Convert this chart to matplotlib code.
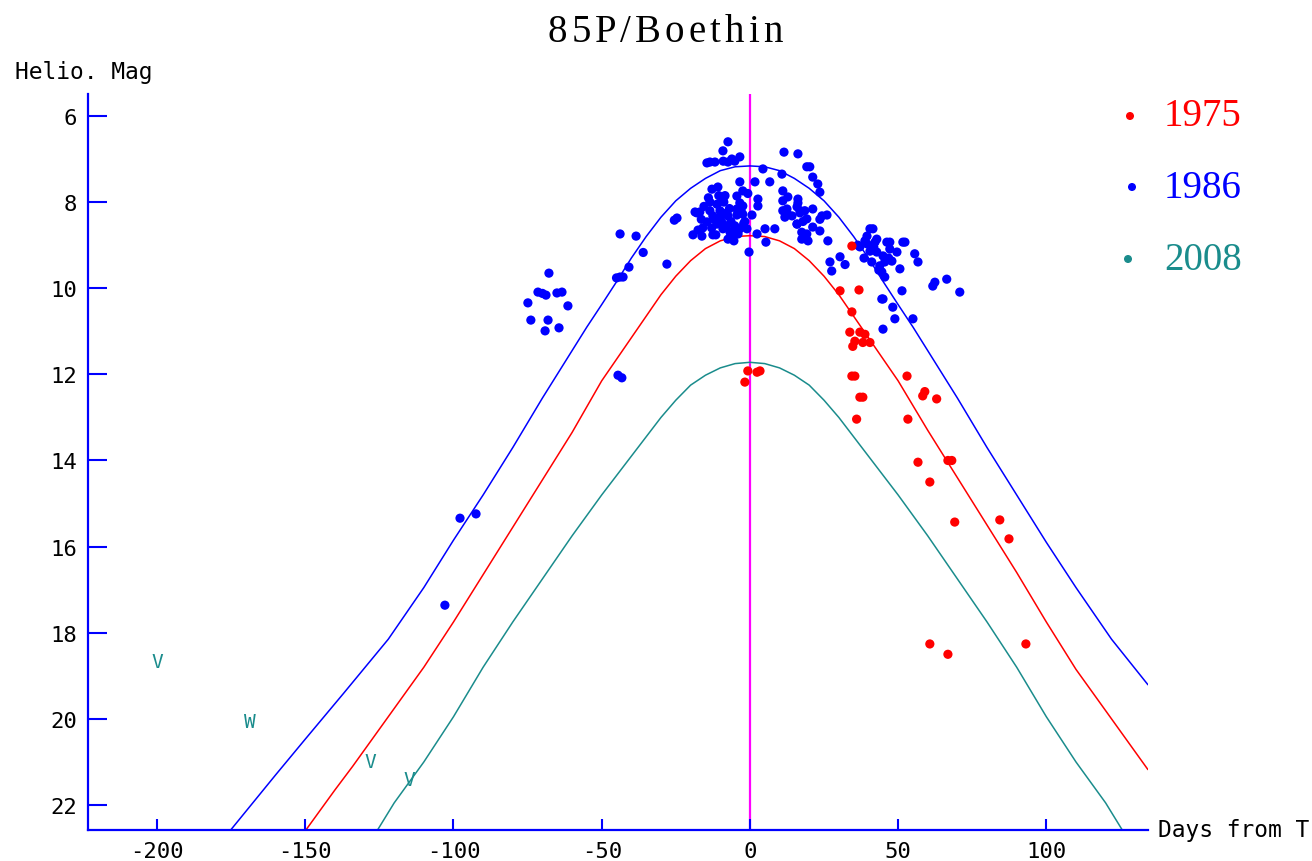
import matplotlib
matplotlib.use("Agg")
import matplotlib.pyplot as plt
from matplotlib.patches import Circle

plt.rcParams['axes.unicode_minus'] = False

TITLE = "85P/Boethin"
X_LABEL = "Days from T"
Y_LABEL = "Helio. Mag"
X_TICKS = [-200, -150, -100, -50, 0, 50, 100]
Y_TICKS = [6, 8, 10, 12, 14, 16, 18, 20, 22]

# 1986 observations (days from T, heliocentric magnitude)
blue_days = [
    -102.9, -97.8, -92.4, -44.5, -43.2,
    -67.8, -71.5, -68.8, -65.1, -63.4, -74.9, -61.4, -73.9, -68.1, -69.1, -64.4, -70.0,
    -43.8, -38.4, -40.8, -43.8, -42.8, -45.0, -36.0, -28.0, -24.6, -25.5, -17.9,
    -7.4, -9.1, -13.5, -11.8, -14.5, -6.1, -3.4, -5.1, -7.4, -9.0,
    4.4, 11.5, 16.2, 19.2, 6.7, 1.7, -3.4, 11.1, 16.2, -12.8, -10.8, -2.4, -4.4, 2.7,
    -13.5, -11.1, -9.1, -3.4, -2.4, 12.5, 15.9, 2.7, -13.5, -10.1, -7.8, -4.4,
    -18.5, -16.9, -12.5, -10.1, -7.4, -4.4, -2.4, 11.8, 14.2, 16.9,
    -14.5, -11.1, -7.8, -5.1, 15.9, 19.2, -19.2, -16.2, -12.5, -11.5, -9.1, -6.7,
    -3.4, -1.0, -7.4, -4.0, -6.1, 2.4, 5.4, 5.1, 8.4, -0.3, 19.2, 17.5,
    20.2, 21.2, 22.9, 23.6, 10.8, 11.1, 12.8, 16.2, 16.9, 11.1, 12.5, 18.5, 21.2, 24.3,
    15.9, 17.5, 19.6, 21.2, 23.6, 26.0, 26.3, 27.0, 27.6, 30.4, 41.5, 39.5, 44.9, 48.2,
    40.5, 38.8, 42.8, 47.2, 52.3, 37.1, 39.5, 42.2, 46.2, 40.5, 42.8, 44.9, 47.2, 49.6,
    41.1, 43.8, 45.5, 47.9, 51.6, 55.6, 56.7, 50.6, 44.5, 45.5, 51.3, 44.5, 48.9, 55.0,
    44.9, 61.7, 66.4, 70.8, 62.4, 17.9, 23.6, 32.1, 36.4, 38.5, 41.8, 43.5, 46.8,
    -15.5, -8.4, -1.7, -6.4, -15.9, -0.7, 0.7, -8.8, -12.1, -5.4,
    -14.0, -10.5, -6.9, -3.0, -16.4, -12.9, -9.6, -5.8, -2.1, -17.5,
]
blue_mags = [
    17.36, 15.34, 15.24, 12.02, 12.08,
    9.65, 10.09, 10.16, 10.11, 10.09, 10.34, 10.41, 10.74, 10.74, 10.99, 10.92, 10.12,
    8.74, 8.79, 9.51, 9.74, 9.74, 9.76, 9.17, 9.44, 8.37, 8.42, 8.25,
    6.60, 6.81, 7.07, 7.07, 7.09, 7.00, 6.95, 7.05, 7.07, 7.05,
    7.23, 6.84, 6.88, 7.18, 7.53, 7.53, 7.53, 7.74, 7.93, 7.70, 7.65, 7.74, 7.86, 7.93,
    8.00, 8.05, 7.95, 8.02, 8.09, 8.16, 8.11, 8.09, 8.20, 8.20, 8.25, 8.16,
    8.23, 8.23, 8.32, 8.35, 8.32, 8.30, 8.28, 8.35, 8.32, 8.20,
    8.46, 8.51, 8.55, 8.55, 8.51, 8.39, 8.76, 8.79, 8.76, 8.76, 8.62, 8.70,
    8.62, 8.62, 8.86, 8.74, 8.79, 8.74, 8.93, 8.62, 8.62, 9.16, 8.74, 8.86,
    7.18, 7.42, 7.58, 7.77, 7.35, 7.97, 7.88, 8.02, 8.25, 8.20, 8.25, 8.20, 8.16, 8.32,
    8.51, 8.70, 8.90, 8.58, 8.67, 8.30, 8.90, 9.39, 9.60, 9.27, 8.62, 8.79, 10.25, 10.44,
    8.62, 8.90, 8.86, 8.93, 8.93, 9.04, 8.97, 8.93, 8.93, 9.14, 9.16, 9.25, 9.09, 9.16,
    9.39, 9.48, 9.39, 9.37, 8.93, 9.20, 9.39, 9.55, 9.62, 9.74, 10.06, 10.25, 10.71, 10.71,
    10.95, 9.95, 9.79, 10.09, 9.86, 8.45, 8.40, 9.45, 9.00, 9.30, 9.05, 9.58, 9.30,
    8.10, 7.85, 8.45, 8.45, 8.60, 7.80, 8.30, 8.00, 8.40, 8.90,
    7.90, 7.85, 8.15, 8.20, 8.40, 8.60, 8.45, 8.70, 8.50, 8.65,
]

# 1975 observations
red_days = [
    -1.7, -0.7, 2.4, 3.4,
    34.4, 30.4, 36.8, 34.4,
    33.7, 37.1, 38.8, 35.4, 38.1, 40.5, 34.7,
    34.4, 35.4, 53.0, 59.0, 58.3, 63.0, 37.1, 38.1, 36.0, 53.3,
    56.7, 66.8, 68.1, 60.7, 69.1, 84.3, 87.4, 60.7, 93.1, 66.8,
]
red_mags = [
    12.18, 11.92, 11.95, 11.92,
    9.02, 10.06, 10.04, 10.55,
    11.02, 11.02, 11.07, 11.23, 11.26, 11.26, 11.35,
    12.04, 12.04, 12.04, 12.40, 12.50, 12.57, 12.53, 12.53, 13.04, 13.04,
    14.04, 14.00, 14.00, 14.50, 15.43, 15.38, 15.82, 18.26, 18.26, 18.50,
]

# 2008 limit markers (drawn as letters)
teal_mark_days = [-200.0, -168.6, -128.0, -115.0]
teal_mark_mags = [18.66, 20.05, 20.98, 21.40]
teal_mark_text = ["V", "W", "V", "V"]

# Light-curve models
blue_curve_days = [-175.4, -160.0, -150.0, -137.0, -122.0, -110.0, -100.0, -90.0, -80.0,
                   -70.0, -65.0, -60.0, -55.0, -50.0, -45.0, -40.0, -35.0, -30.0, -25.0,
                   -20.0, -15.0, -10.0, -5.0, 0.0, 5.0, 10.0, 15.0, 20.0, 25.0, 30.0,
                   35.0, 40.0, 45.0, 50.0, 55.0, 60.0, 65.0, 70.0, 80.0, 90.0, 100.0,
                   110.0, 122.0, 134.2]
blue_curve_mags = [22.60, 21.30, 20.47, 19.40, 18.15, 16.95, 15.85, 14.80, 13.70,
                   12.55, 12.00, 11.45, 10.90, 10.38, 9.85, 9.30, 8.80, 8.35, 7.97,
                   7.68, 7.45, 7.27, 7.18, 7.16, 7.18, 7.27, 7.45, 7.68, 7.97, 8.35,
                   8.80, 9.30, 9.85, 10.38, 10.90, 11.45, 12.00, 12.55, 13.70, 14.80, 15.90,
                   16.95, 18.15, 19.20]

red_curve_days = [-150.0, -140.0, -134.0, -122.0, -110.0, -100.0, -90.0, -80.0, -70.0,
                  -60.0, -50.0, -45.0, -40.0, -35.0, -30.0, -25.0, -20.0, -15.0, -10.0,
                  -5.0, 0.0, 5.0, 10.0, 15.0, 20.0, 25.0, 30.0, 35.0, 40.0, 45.0, 50.0,
                  60.0, 70.0, 80.0, 90.0, 100.0, 110.0, 122.0, 134.2]
red_curve_mags = [22.60, 21.65, 21.10, 19.95, 18.80, 17.75, 16.65, 15.55, 14.45,
                  13.35, 12.15, 11.65, 11.15, 10.65, 10.15, 9.72, 9.36, 9.08, 8.90,
                  8.80, 8.78, 8.80, 8.90, 9.08, 9.36, 9.72, 10.15, 10.65, 11.15, 11.65, 12.15,
                  13.30, 14.40, 15.50, 16.60, 17.75, 18.85, 20.00, 21.17]

teal_curve_days = [-125.8, -120.0, -110.0, -100.0, -90.0, -80.0, -70.0, -60.0, -50.0,
                   -45.0, -40.0, -35.0, -30.0, -25.0, -20.0, -15.0, -10.0, -5.0, 0.0,
                   5.0, 10.0, 15.0, 20.0, 25.0, 30.0, 35.0, 40.0, 45.0, 50.0, 60.0, 70.0,
                   80.0, 90.0, 100.0, 110.0, 120.0, 125.8]
teal_curve_mags = [22.60, 21.95, 21.00, 19.95, 18.80, 17.75, 16.75, 15.75, 14.80,
                   14.35, 13.90, 13.45, 13.00, 12.60, 12.25, 12.02, 11.85, 11.75, 11.72,
                   11.75, 11.85, 12.02, 12.25, 12.60, 13.00, 13.45, 13.90, 14.35, 14.80, 15.75, 16.75,
                   17.75, 18.80, 19.95, 21.00, 21.95, 22.60]

legend_labels = ["1975", "1986", "2008"]

RED = "#ff0000"
BLUE = "#0000ff"
TEAL = "#1a8c8c"
MAGENTA = "#ff00ff"

W, H = 1312, 862
fig = plt.figure(figsize=(W / 100, H / 100), dpi=100)
fig.patch.set_facecolor("white")
ax = fig.add_axes([88 / W, 1 - 831 / H, (1148 - 88) / W, (831 - 95) / H])
ax.set_facecolor("white")

ax.set_xlim(-223.3, 134.3)
ax.set_ylim(22.58, 5.49)

ax.axvline(0, color=MAGENTA, lw=1.6, zorder=1)

ax.plot(blue_curve_days, blue_curve_mags, color=BLUE, lw=1.1, zorder=2)
ax.plot(red_curve_days, red_curve_mags, color=RED, lw=1.1, zorder=2)
ax.plot(teal_curve_days, teal_curve_mags, color=TEAL, lw=1.1, zorder=2)

ax.scatter(blue_days, blue_mags, s=44, color=BLUE, edgecolors="none", zorder=3)
ax.scatter(red_days, red_mags, s=44, color=RED, edgecolors="none", zorder=4)

for d, m, t in zip(teal_mark_days, teal_mark_mags, teal_mark_text):
    ax.text(d, m, t, color=TEAL, fontsize=14, family="DejaVu Sans Mono",
            ha="center", va="center", zorder=3)

for s in ["top", "right"]:
    ax.spines[s].set_visible(False)
for s in ["left", "bottom"]:
    ax.spines[s].set_color(BLUE)
    ax.spines[s].set_linewidth(1.6)

ax.set_xticks(X_TICKS)
ax.set_yticks(Y_TICKS)
ax.set_xticklabels([str(v) for v in X_TICKS])
ax.set_yticklabels([str(v) for v in Y_TICKS])
ax.tick_params(axis="y", direction="in", length=14, width=1.5, color=BLUE,
               labelsize=16, pad=8)
ax.tick_params(axis="x", direction="in", length=8, width=1.5, color=BLUE,
               labelsize=16, pad=8)
for lab in ax.get_xticklabels() + ax.get_yticklabels():
    lab.set_family("DejaVu Sans Mono")

fig.text(15 / W, 1 - 73 / H, Y_LABEL, fontsize=16.5, family="DejaVu Sans Mono",
         ha="left", va="center")
fig.text(1158 / W, 1 - 831 / H, X_LABEL, fontsize=16.5, family="DejaVu Sans Mono",
         ha="left", va="center")

# Title drawn with the slightly wide letter spacing of the original
renderer = fig.canvas.get_renderer()
TITLE_SIZE = 28
gap = 4.0
widths = []
for ch in TITLE:
    t = fig.text(0, 0, ch, fontsize=TITLE_SIZE, family="Liberation Serif")
    widths.append(t.get_window_extent(renderer).width)
    t.remove()
total = sum(widths) + gap * (len(TITLE) - 1)
x = 665 - total / 2
for ch, w in zip(TITLE, widths):
    fig.text(x / W, 1 - 32 / H, ch, fontsize=TITLE_SIZE, family="Liberation Serif",
             ha="left", va="center")
    x += w + gap

leg_colors = [RED, BLUE, TEAL]
leg_y = [117, 188, 260]
leg_x = [1130, 1132, 1128]
for lab, c, yy, xx in zip(legend_labels, leg_colors, leg_y, leg_x):
    fig.text(1164 / W, 1 - yy / H, lab, fontsize=28, family="Liberation Serif",
             color=c, ha="left", va="center")
    fig.patches.append(Circle((xx, H - yy), 3.3, transform=None, color=c, figure=fig))

fig.savefig("out.png", dpi=100, facecolor="white")
